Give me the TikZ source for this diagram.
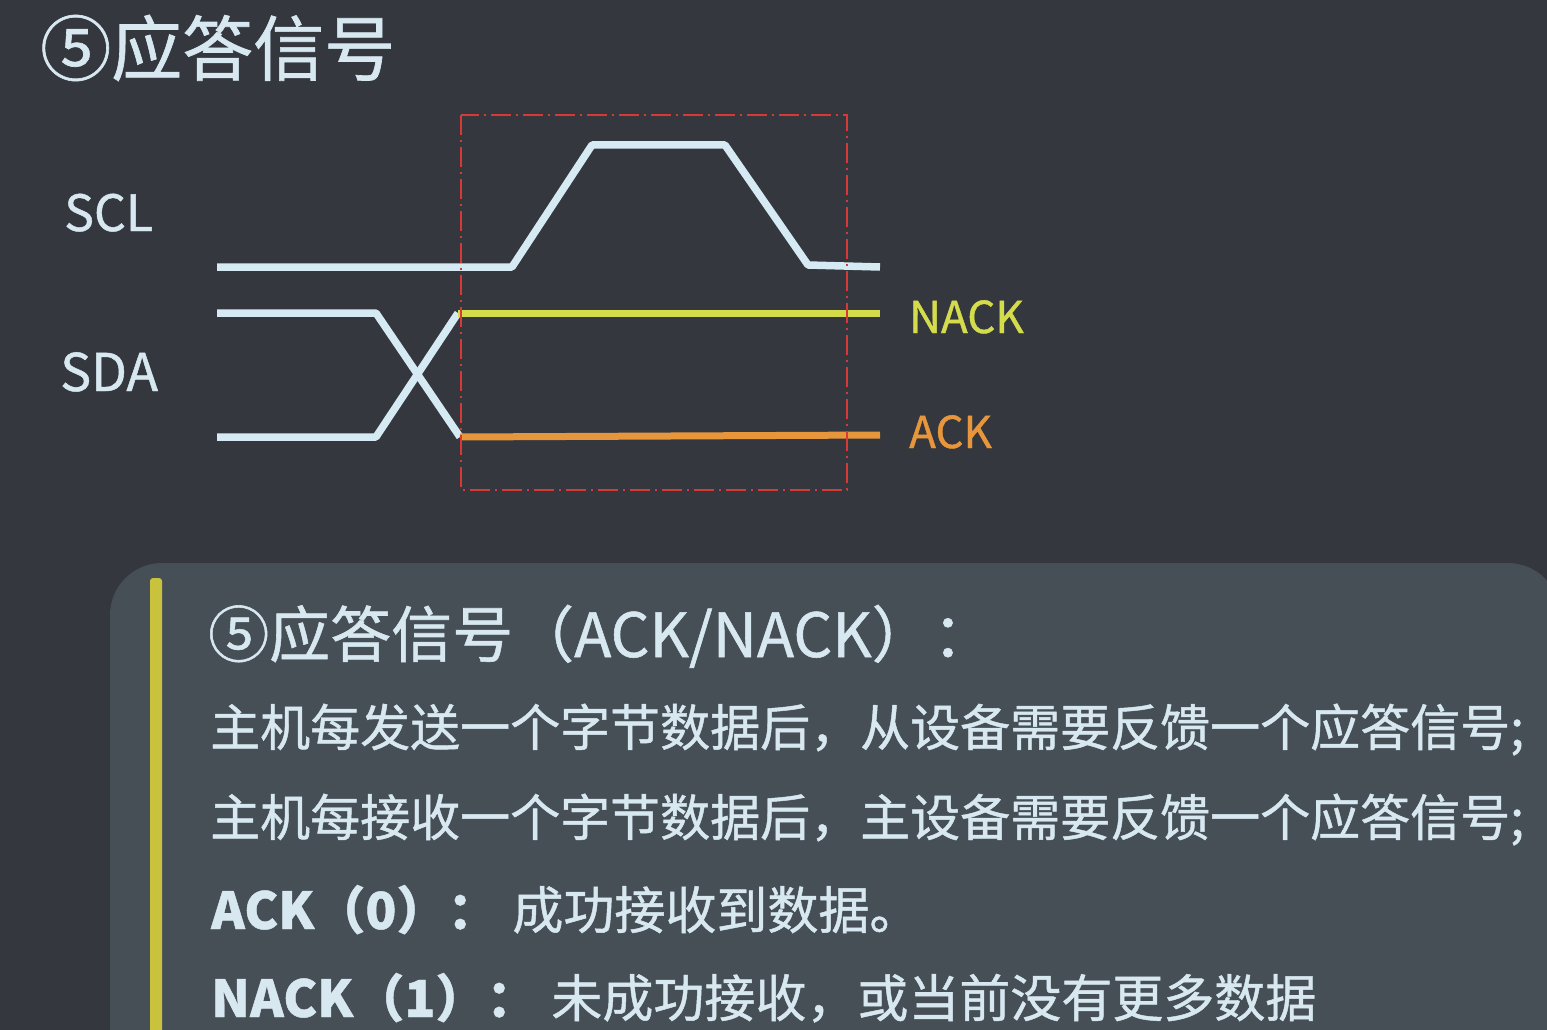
\documentclass[tikz,border=0pt]{standalone}
\usepackage{fontspec}
\setmainfont{Noto Sans CJK SC}[FakeBold=0.9]
\begin{document}
\begin{tikzpicture}[x=1pt,y=-1pt,
  wave/.style={line width=7.5pt,line join=round},
  frame/.style={draw=markred,line width=2.8pt,dash pattern=on 20pt off 5pt on 2pt off 5pt},
  body/.style={anchor=base west,inner sep=0pt,text=txt,font=\fontsize{50}{60}\selectfont},
  lbl/.style={anchor=base west,inner sep=0pt,font=\fontsize{50}{60}\selectfont},
  tag/.style={anchor=base west,inner sep=0pt,font=\fontsize{44}{52}\selectfont}]
\definecolor{bg}{HTML}{34373E}
\definecolor{panel}{HTML}{464E56}
\definecolor{txt}{HTML}{D8E8F0}
\definecolor{wavec}{HTML}{D6EAF4}
\definecolor{nackc}{HTML}{D4DC4C}
\definecolor{ackc}{HTML}{E8963C}
\definecolor{markred}{HTML}{D63A36}
\definecolor{barc}{HTML}{C8C23C}
\useasboundingbox (0,0) rectangle (1547,1030);
\clip (0,0) rectangle (1547,1030);
\fill[bg] (0,0) rectangle (1547,1030);

% heading
\node[anchor=base west,inner sep=0pt,text=txt,font=\fontsize{71}{80}\selectfont] (head) at (40,75) {⑤应答信号};

% signal names
\node[lbl,text=txt] (scl) at (64,231) {SCL};
\node[lbl,text=txt,font=\fontsize{52}{60}\selectfont] (sda) at (60,391) {SDA};

% SCL clock pulse
\coordinate (c0) at (217,267);
\coordinate (c1) at (512,267);
\coordinate (c2) at (592,145);
\coordinate (c3) at (725,145);
\coordinate (c4) at (808,265);
\coordinate (c5) at (880,267);
\draw[wave,wavec] (c0) -- (c1) -- (c2) -- (c3) -- (c4) -- (c5);

% SDA transition
\coordinate (h0) at (217,313);
\coordinate (h1) at (376,313);
\coordinate (hx) at (460,437);
\coordinate (l0) at (217,437);
\coordinate (l1) at (376,437);
\coordinate (lx) at (458,313);
\draw[wave,wavec] (h0) -- (h1) -- (hx);
\draw[wave,wavec] (l0) -- (l1) -- (lx);
\coordinate (nEnd) at (880,313);
\coordinate (aEnd) at (880,435);
\draw[line width=7pt,nackc] (lx) -- (nEnd);
\draw[line width=7pt,ackc] (hx) -- (aEnd);

% acknowledge window
\draw[frame] (461,115) rectangle (847,490);

\node[tag,text=nackc] (nack) at (909,333) {NACK};
\node[tag,text=ackc] (ack) at (909,448) {ACK};

% explanation panel
\fill[panel,rounded corners=52pt] (110,563) rectangle (1560,1100);
\fill[barc,rounded corners=3pt] (150,578) rectangle (162,1060);

\node[anchor=base west,inner sep=0pt,text=txt,font=\fontsize{61}{70}\selectfont] (t1) at (208,657) {⑤应答信号（ACK/NACK）：};
\node[body] (t2) at (210,746) {主机每发送一个字节数据后，从设备需要反馈一个应答信号;};
\node[body] (t3) at (210,836) {主机每接收一个字节数据后，主设备需要反馈一个应答信号;};
\node[body,font=\fontsize{51}{60}\selectfont] (t4) at (211,929) {\textbf{ACK（0）：}\hspace{14pt}成功接收到数据。};
\node[body,font=\fontsize{51}{60}\selectfont] (t5) at (211,1017) {\textbf{NACK（1）：}\hspace{14pt}未成功接收，或当前没有更多数据};
\end{tikzpicture}
\end{document}
